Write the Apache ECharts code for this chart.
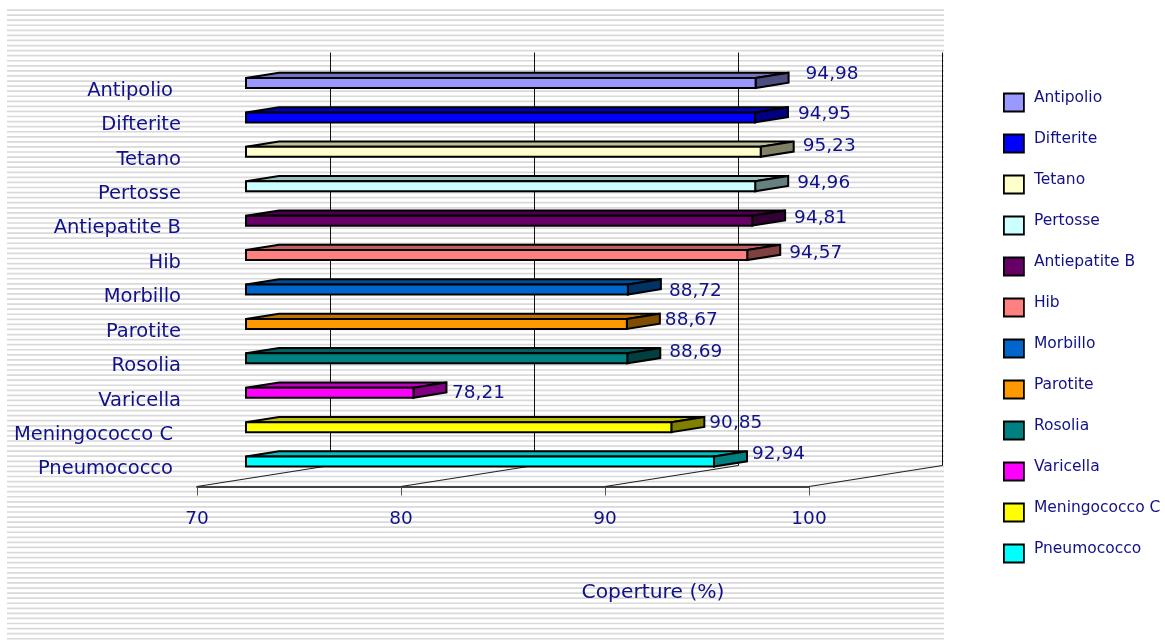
<!DOCTYPE html>
<html>
<head>
<meta charset="utf-8">
<style>html,body{margin:0;padding:0;background:#fff}#main{width:1165px;height:640px}</style>
<script src="https://cdn.jsdelivr.net/npm/echarts@6/dist/echarts.min.js"></script>
</head>
<body>
<div id="main"></div>
<script>
// Vaccination coverage (%) by vaccine
const categories = ['Antipolio','Difterite','Tetano','Pertosse','Antiepatite B','Hib','Morbillo','Parotite','Rosolia','Varicella','Meningococco C','Pneumococco'];
const coverage = [94.98,94.95,95.23,94.96,94.81,94.57,88.72,88.67,88.69,78.21,90.85,92.94];
const xTicks = [70,80,90,100];

// Presentation only
const barColors = ['#9999FF','#0000FF','#FFFFCC','#CCFFFF','#660066','#FF8080','#0066CC','#FF9900','#008080','#FF00FF','#FFFF00','#00FFFF'];
const labelNudgeX = [17,10,9,9,9,9,8,5,9,5.5,5,5];
const labelNudgeY = [-9,-3,-6,-3,-2,-2,2,-4,-6,0,-4,-7];
const shortenedLabels = ['Antipolio','Meningococco C','Pneumococco'];

const TEXT = '#111188';
const FONT = 'DejaVu Sans, Verdana, sans-serif';
// Oblique projection of the floor: full depth shift, and the slab of each bar inside it
const DEPTH_X = 133, DEPTH_Y = 21;
const NEAR = 49 / 133, FAR = 82 / 133;
const BAR_H = 10;

const chart = echarts.init(document.getElementById('main'), null, {renderer:'canvas'});

// Darker tone of a face colour for the slab's top and end
function shade(color, k) {
  const c = echarts.color.parse(color);
  return 'rgb(' + Math.round(c[0] * k) + ',' + Math.round(c[1] * k) + ',' + Math.round(c[2] * k) + ')';
}

// Horizontal ruling behind the plot
const stripes = [];
for (let i = 0; i < 125; i++) {
  stripes.push({type:'rect', z:-10, shape:{x:7, y:9.2 + i * 5.07, width:937, height:1.7},
    style:{fill:'#d9d9d9'}, silent:true});
}

function renderWalls(params, api) {
  const cs = params.coordSys;
  const x = api.coord([api.value(0), 0])[0];
  const floorY = cs.y + cs.height;
  const backX = Math.floor(x + DEPTH_X) + 0.5, backY = floorY - DEPTH_Y;
  return {type:'group', children:[
    {type:'line', shape:{x1:x, y1:floorY, x2:backX, y2:backY}, style:{stroke:'#222', lineWidth:1.1}},
    {type:'line', shape:{x1:backX, y1:backY, x2:backX, y2:cs.y - DEPTH_Y}, style:{stroke:'#111', lineWidth:1}}
  ]};
}

function renderBar(params, api) {
  const index = api.value(1);
  const base = api.coord([70, index]);
  const tip = api.coord([api.value(0), index]);
  const color = api.visual('color');
  const x0 = base[0] + DEPTH_X * NEAR, x1 = tip[0] + DEPTH_X * NEAR;
  const yc = base[1] - DEPTH_Y * NEAR;
  const top = yc - BAR_H / 2, bottom = yc + BAR_H / 2;
  const dx = DEPTH_X * (FAR - NEAR), dy = DEPTH_Y * (FAR - NEAR);
  const edge = {stroke:'#000', lineWidth:2, lineJoin:'miter'};
  const text = api.value(0).toFixed(2).replace('.', ',');
  return {type:'group', children:[
    {type:'polygon', shape:{points:[[x0,top],[x0+dx,top-dy],[x1+dx,top-dy],[x1,top]]},
      style:Object.assign({fill:shade(color,0.75)}, edge)},
    {type:'polygon', shape:{points:[[x1,top],[x1+dx,top-dy],[x1+dx,bottom-dy],[x1,bottom]]},
      style:Object.assign({fill:shade(color,0.5)}, edge)},
    {type:'rect', shape:{x:x0, y:top, width:x1-x0, height:BAR_H},
      style:Object.assign({fill:color}, edge)},
    {type:'text', z2:10, style:{text:text, x:x1+dx+labelNudgeX[index], y:yc+labelNudgeY[index],
      fill:TEXT, font:'18.5px '+FONT, textAlign:'left', textBaseline:'middle', verticalAlign:'middle'}}
  ]};
}

const series = [{
  type:'custom', name:'walls', z:1, silent:true,
  renderItem:renderWalls,
  data:xTicks.map(v => [v]),
  encode:{x:0}
}].concat(categories.map((name, i) => ({
  type:'custom', name:name, z:5, silent:true,
  renderItem:renderBar,
  itemStyle:{color:barColors[i]},
  data:[[coverage[i], i]],
  encode:{x:0, y:1}
})));

chart.setOption({
  animation:false,
  backgroundColor:'#fff',
  graphic:stripes,
  grid:{left:197, top:73.5, width:612, height:413, containLabel:false},
  xAxis:{
    type:'value', min:70, max:100, interval:10,
    name:'Coperture (%)', nameLocation:'middle', nameGap:96,
    nameTextStyle:{color:TEXT, fontFamily:FONT, fontSize:20.3, padding:[0,0,0,300]},
    axisLine:{show:true, lineStyle:{color:'#444', width:1.8}},
    axisTick:{show:true, length:9, lineStyle:{color:'#555', width:1}},
    axisLabel:{color:TEXT, fontFamily:FONT, fontSize:18.5, margin:23},
    splitLine:{show:false}
  },
  yAxis:{
    type:'category', inverse:true,
    data:categories.map(name => shortenedLabels.includes(name)
      ? {value:name, textStyle:{padding:[0,8,0,0]}} : name),
    axisLine:{show:false}, axisTick:{show:false},
    axisLabel:{color:TEXT, fontFamily:FONT, fontSize:19.5, margin:16},
    splitLine:{show:false}
  },
  legend:{
    orient:'vertical', left:1003, top:89.5, padding:0,
    data:categories, icon:'rect', selectedMode:false,
    itemWidth:20, itemHeight:18, itemGap:15,
    formatter:name => name + '\n ',
    itemStyle:{borderColor:'#000', borderWidth:1.8},
    textStyle:{color:TEXT, fontFamily:FONT, fontSize:15.5, lineHeight:10, padding:[0,0,0,5]}
  },
  series:series
});
</script>
</body>
</html>
